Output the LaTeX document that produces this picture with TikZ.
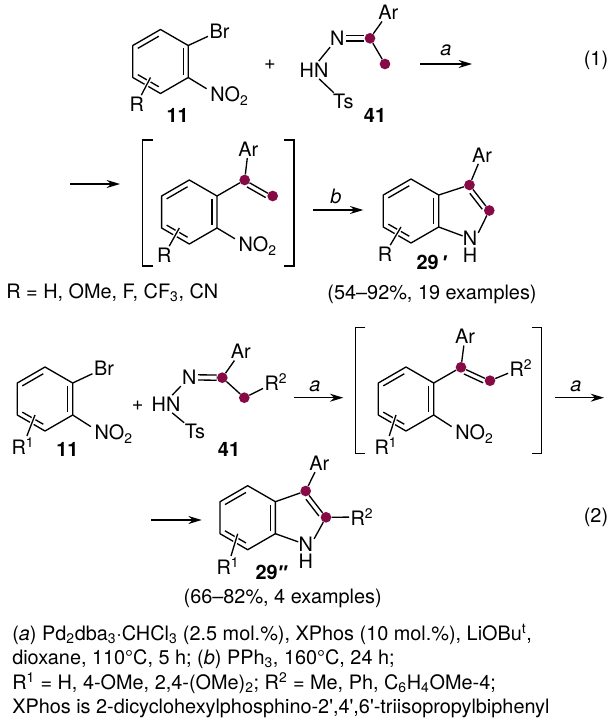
\documentclass[tikz,border=0pt]{standalone}
\usepackage{fontspec}
\setmainfont{TeX Gyre Heros}
\newfontfamily\primefont{Liberation Sans}
\usetikzlibrary{calc,arrows.meta}

\definecolor{dotred}{HTML}{850A45}

\tikzset{
	atom/.style={inner sep=1pt,font=\fontsize{14.9}{18}\selectfont},
	stack/.style={inner sep=0pt,align=center,font=\fontsize{14.9}{12.75}\selectfont},
	chain/.style={inner sep=0pt,font=\fontsize{14.9}{18}\selectfont},
	num/.style={inner sep=0pt,font=\fontsize{14.9}{18}\selectfont\bfseries},
	cond/.style={inner sep=0pt,font=\fontsize{14.9}{18}\selectfont\itshape},
	note/.style={inner sep=0pt,anchor=base west,font=\fontsize{14.9}{18}\selectfont},
	vtx/.style={circle,fill=dotred,inner sep=0pt,minimum size=8pt},
	bond/.style={line width=1pt},
	halo/.style={line width=1pt,preaction={draw,white,line width=3pt}},
	go/.style={line width=1pt,-{Stealth[length=10pt,width=6pt]}}
}

\newcommand{\ringat}[3]{
	\coordinate (#1o) at (#2,#3);
	\coordinate (#1a) at (#2,#3-32);
	\coordinate (#1b) at (#2+27.7,#3-16);
	\coordinate (#1c) at (#2+27.7,#3+16);
	\coordinate (#1d) at (#2,#3+32);
	\coordinate (#1e) at (#2-27.7,#3+16);
	\coordinate (#1f) at (#2-27.7,#3-16);
	\coordinate (#1x) at (#2-10,#3+16);
	\draw[bond,line join=round] (#1a) -- (#1b) -- (#1c) -- (#1d) -- (#1e) -- (#1f) -- cycle;
	\draw[bond,shorten >=1.5pt] ($(#1o)!.82!(#1f)$) -- ($(#1o)!.82!(#1a)$);
	\draw[bond] ($(#1o)!.82!(#1b)$) -- ($(#1o)!.82!(#1c)$);
	\draw[bond,shorten >=1.5pt] ($(#1o)!.82!(#1e)$) -- ($(#1o)!.82!(#1d)$);
}

\newcommand{\bracketpair}[5]{
	\coordinate (#1l1) at (#2+10,#3);
	\coordinate (#1l2) at (#2,#3);
	\coordinate (#1l3) at (#2,#5);
	\coordinate (#1l4) at (#2+10,#5);
	\coordinate (#1r1) at (#4-10,#3);
	\coordinate (#1r2) at (#4,#3);
	\coordinate (#1r3) at (#4,#5);
	\coordinate (#1r4) at (#4-10,#5);
	\draw[bond] (#1l1) -- (#1l2) -- (#1l3) -- (#1l4);
	\draw[bond] (#1r1) -- (#1r2) -- (#1r3) -- (#1r4);
}

\begin{document}
\begin{tikzpicture}[x=.75pt,y=-.75pt]

	\useasboundingbox (0,0) rectangle (611,721);

	% first row
	\ringat{P}{160.5}{61.5}
	\node[atom] (pbr) at (219.5,31) {Br};
	\node[chain,anchor=west] (pno) at (210,96) {NO\textsubscript{2}};
	\node[atom] (pr) at (136.7,104) {R};
	\node[num] (pnum) at (177.7,115) {11};
	\draw[bond] (Pb) -- (pbr);
	\draw[bond,shorten >=3pt] (Pc) -- (pno.165);
	\draw[halo] (pr) -- (Px);
	\node[atom] (plus) at (270,65) {+};

	\node[atom] (qn) at (337.3,38.3) {N};
	\node[atom] (qhn) at (314,70) {HN};
	\node[atom] (qts) at (343.3,101.7) {Ts};
	\node[atom] (qar) at (388.3,12.7) {Ar};
	\node[num] (qnum) at (375,115) {41};
	\node[vtx] (qc) at (370,38.3) {};
	\node[vtx] (qm) at (385,64) {};
	\draw[bond] (qn) -- (qhn.62);
	\draw[bond] (qhn.-60) -- (qts);
	\draw[bond] (qc) -- (qar);
	\draw[bond] (qc) -- (qm);
	\draw[bond,double,double distance=2.9pt] (qn) -- (qc);

	\coordinate (ra) at (420,64);
	\coordinate (rb) at (472,64);
	\draw[go] (ra) -- (rb);
	\node[cond] (rl) at (446,50) {a};
	\node[chain] (one) at (596,60) {(1)};

	% second row
	\coordinate (sa) at (70,184);
	\coordinate (sb) at (120,184);
	\draw[go] (sa) -- (sb);

	\bracketpair{u}{142.7}{140}{294}{266}

	\ringat{T}{189.3}{212}
	\node[chain,anchor=west] (tno) at (238.3,246) {NO\textsubscript{2}};
	\node[atom] (tr) at (164.3,255) {R};
	\node[atom] (tar) at (248.3,149.3) {Ar};
	\node[vtx] (tp) at (244.7,180) {};
	\node[vtx] (tm) at (272.7,196) {};
	\draw[bond] (Tb) -- (tp);
	\draw[bond] (tp) -- (tm);
	\draw[bond] (tp) -- (tar);
	\draw[bond,shorten <=4pt,shorten >=4pt] ([shift={(-2.4,4.2)}]tp.center) -- ([shift={(-2.4,4.2)}]tm.center);
	\draw[bond,shorten >=3pt] (Tc) -- (tno.165);
	\draw[halo] (tr) -- (Tx);

	\coordinate (va) at (313.3,210);
	\coordinate (vb) at (363.3,210);
	\draw[go] (va) -- (vb);
	\node[cond] (vl) at (336,196.7) {b};

	\ringat{I}{411}{211}
	\node[atom] (ir) at (385,254) {R};
	\node[atom] (iar) at (482,155) {Ar};
	\node[vtx] (ip) at (469.5,185) {};
	\node[vtx] (iq) at (489.3,210.5) {};
	\node[stack] (in) at (470,246.5) {N\\H};
	\node[num] (inum) at (432,262) {29\,{\primefont\textit{′}}};
	\draw[bond] (Ib) -- (ip);
	\draw[bond] (ip) -- (iq);
	\draw[bond] (ip) -- (iar);
	\draw[bond,shorten <=5pt,shorten >=4pt] ([shift={(-3.8,3)}]ip.center) -- ([shift={(-3.8,3)}]iq.center);
	\draw[bond,shorten >=1.5pt] (iq) -- (in.58);
	\draw[bond] (in.125) -- (Ic);
	\draw[halo] (ir) -- (Ix);

	\node[note] (scope) at (6,298) {R = H, OMe, F, CF\textsubscript{3}, CN};
	\node[chain] (yield) at (432,294) {(54–92\%, 19 examples)};

	% third row
	\ringat{J}{45}{399}
	\node[atom] (jbr) at (104,368.3) {Br};
	\node[chain,anchor=west] (jno) at (94.3,434) {NO\textsubscript{2}};
	\node[atom] (jr) at (23,446) {R\textsuperscript{1}};
	\node[num] (jnum) at (67.3,449) {11};
	\draw[bond] (Jb) -- (jbr);
	\draw[bond,shorten >=3pt] (Jc) -- (jno.165);
	\draw[halo] (jr) -- (Jx);
	\node[atom] (jplus) at (137.7,406) {+};

	\node[atom] (hn) at (189.3,377.3) {N};
	\node[atom] (hhn) at (166,404) {HN};
	\node[atom] (hts) at (195,431.7) {Ts};
	\node[atom] (har) at (240.7,351.7) {Ar};
	\node[atom] (hr) at (276,382) {R\textsuperscript{2}};
	\node[num] (hnum) at (229,449.3) {41};
	\node[vtx] (hc) at (222.3,377.7) {};
	\node[vtx] (hm) at (244.3,397.7) {};
	\draw[bond] (hn) -- (hhn.55);
	\draw[bond] (hhn.-55) -- (hts);
	\draw[bond] (hc) -- (har);
	\draw[bond] (hc) -- (hm);
	\draw[bond] (hm) -- (hr);
	\draw[bond,double,double distance=2.9pt] (hn) -- (hc);

	\coordinate (wa) at (294,397.7);
	\coordinate (wb) at (343.3,397.7);
	\draw[go] (wa) -- (wb);
	\node[cond] (wl) at (315,386.7) {a};

	\bracketpair{y}{355.3}{327.3}{541.7}{453.3}

	\ringat{K}{406}{399}
	\node[chain,anchor=west] (kno) at (455,434) {NO\textsubscript{2}};
	\node[atom] (kr) at (386,446) {R\textsuperscript{1}};
	\node[atom] (kar) at (465,336.7) {Ar};
	\node[atom] (kz) at (521,368) {R\textsuperscript{2}};
	\node[vtx] (kp) at (461,367.3) {};
	\node[vtx] (kq) at (490,380.7) {};
	\draw[bond] (Kb) -- (kp);
	\draw[bond] (kp) -- (kq);
	\draw[bond] (kp) -- (kar);
	\draw[bond] (kq) -- (kz);
	\draw[bond,shorten <=4pt,shorten >=4pt] ([shift={(-2,4.4)}]kp.center) -- ([shift={(-2,4.4)}]kq.center);
	\draw[bond,shorten >=3pt] (Kc) -- (kno.165);
	\draw[halo] (kr) -- (Kx);

	\coordinate (ga) at (555,397.7);
	\coordinate (gb) at (604,397.7);
	\draw[go] (ga) -- (gb);
	\node[cond] (gl) at (576,386.7) {a};

	% fourth row
	\coordinate (ea) at (151,520);
	\coordinate (eb) at (201.7,520);
	\draw[go] (ea) -- (eb);

	\ringat{L}{247.7}{517.7}
	\node[atom] (lr) at (228,566) {R\textsuperscript{1}};
	\node[atom] (lar) at (319.3,463.3) {Ar};
	\node[vtx] (lp) at (305.7,491) {};
	\node[vtx] (lq) at (326,517.3) {};
	\node[stack] (ln) at (305.7,552.5) {N\\H};
	\node[atom] (lz) at (362,517) {R\textsuperscript{2}};
	\node[num] (lnum) at (271.7,572) {29{\primefont\textit{″}}};
	\draw[bond] (Lb) -- (lp);
	\draw[bond] (lp) -- (lq);
	\draw[bond] (lp) -- (lar);
	\draw[bond,shorten <=5pt,shorten >=4pt] ([shift={(-3.8,3)}]lp.center) -- ([shift={(-3.8,3)}]lq.center);
	\draw[bond,shorten >=1.5pt] (lq) -- (ln.58);
	\draw[bond] (ln.125) -- (Lc);
	\draw[bond] (lq) -- (lz);
	\draw[halo] (lr) -- (Lx);

	\node[chain] (lyield) at (282.7,598) {(66–82\%, 4 examples)};
	\node[chain] (two) at (596,517) {(2)};

	% footnote
	\node[note] (f1) at (12,640) {(\textit{a}) Pd\textsubscript{2}dba\textsubscript{3}\textperiodcentered CHCl\textsubscript{3} (2.5 mol.\%), XPhos (10 mol.\%), LiOBu\textsuperscript{t},};
	\node[note] (f2) at (12,664) {dioxane, 110°C, 5 h; (\textit{b}) PPh\textsubscript{3}, 160°C, 24 h;};
	\node[note] (f3) at (12,689) {R\textsuperscript{1} = H, 4-OMe, 2,4-(OMe)\textsubscript{2}; R\textsuperscript{2} = Me, Ph, C\textsubscript{6}H\textsubscript{4}OMe-4;};
	\node[note] (f4) at (12,713) {XPhos is 2-dicyclohexylphosphino-2\textquotesingle,4\textquotesingle,6\textquotesingle-triisopropylbiphenyl};

\end{tikzpicture}
\end{document}
